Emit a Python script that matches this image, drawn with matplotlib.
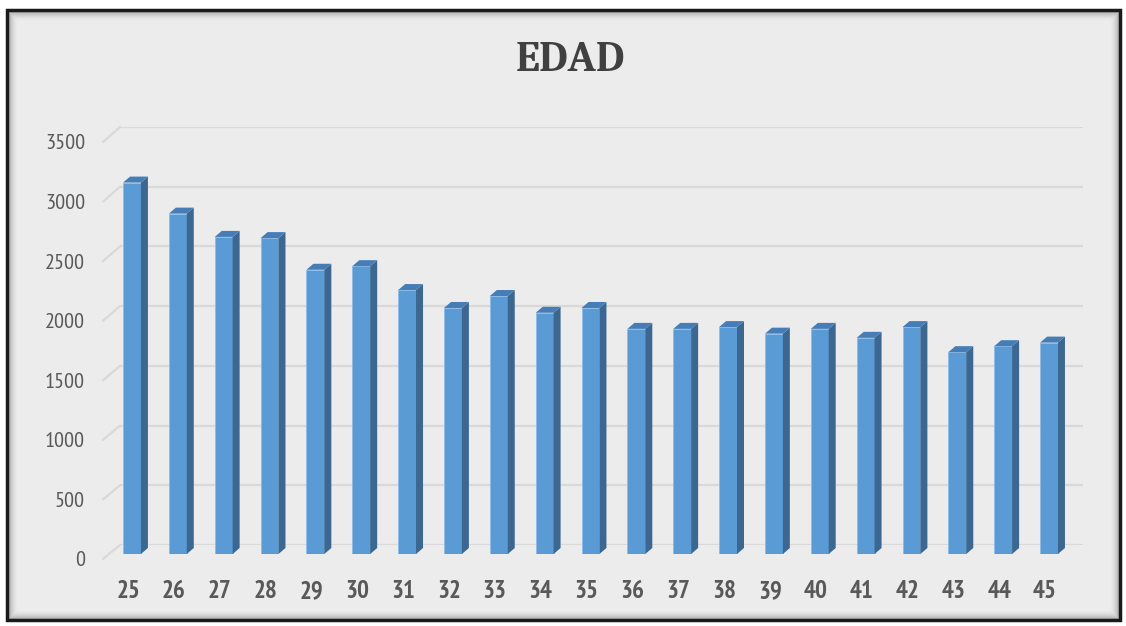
import matplotlib
matplotlib.use("Agg")
import matplotlib.pyplot as plt
from matplotlib.patches import Polygon, Rectangle, ConnectionPatch
from matplotlib.transforms import blended_transform_factory, ScaledTranslation

# ---- data ----
edades = ["25", "26", "27", "28", "29", "30", "31", "32", "33", "34", "35",
          "36", "37", "38", "39", "40", "41", "42", "43", "44", "45"]
valores = [3110, 2850, 2655, 2645, 2380, 2410, 2210, 2060, 2160, 2020, 2060,
           1885, 1885, 1900, 1845, 1885, 1810, 1900, 1690, 1740, 1770]
y_ticks = [0, 500, 1000, 1500, 2000, 2500, 3000, 3500]
titulo = "EDAD"

NARROW = ["PT Sans Narrow", "Archivo Narrow", "Roboto Condensed", "DejaVu Sans"]
SERIF = ["Caladea", "Liberation Serif", "DejaVu Serif"]

W, H = 1126, 626
fig = plt.figure(figsize=(W / 100, H / 100), dpi=100, facecolor="white")

def fx(px):
    return px / W

def fy(px_from_top):
    return 1 - px_from_top / H

# ---- frame with inner shadow ----
bg = "#ECECEC"
fig.patches.append(Rectangle((fx(7), fy(620)), fx(1113), 610 / H, transform=fig.transFigure,
                             facecolor=bg, edgecolor="none", zorder=-3))
for i in range(10):
    a = 0.22 * (1 - i / 10) ** 2
    fig.patches.append(Rectangle((fx(8 + i), fy(619 - i)), fx(1111 - 2 * i), (608 - 2 * i) / H,
                                 transform=fig.transFigure, facecolor="none",
                                 edgecolor=(0, 0, 0, a), lw=1.0, zorder=-2))
fig.patches.append(Rectangle((fx(7), fy(620)), fx(1113), 610 / H, transform=fig.transFigure,
                             facecolor="none", edgecolor="#1a1a1a", lw=2.5, zorder=-1))

ymax = 3500
hgt = 418 / H

# back wall axes (gridlines)
ax_back = fig.add_axes([fx(120), fy(545), fx(963), hgt])
ax_back.set_xlim(0, 1)
ax_back.set_ylim(0, ymax)
ax_back.set_yticks(y_ticks)
ax_back.set_xticks([])
ax_back.tick_params(left=False, labelleft=False)
ax_back.grid(axis="y", color="#D9D9D9", lw=1.6)
ax_back.set_facecolor("none")
for s in ax_back.spines.values():
    s.set_visible(False)

# front plane axes (y tick labels)
ax_fp = fig.add_axes([fx(103), fy(559), fx(17), 417 / H])
ax_fp.set_ylim(0, ymax)
ax_fp.set_yticks(y_ticks)
ax_fp.set_yticklabels([str(v) for v in y_ticks],
                      fontdict=dict(family=NARROW, size=16, color="#595959"))
ax_fp.tick_params(axis="y", length=0, pad=13)
ax_fp.set_xticks([])
ax_fp.set_facecolor("none")
for s in ax_fp.spines.values():
    s.set_visible(False)

tb = blended_transform_factory(ax_back.transAxes, ax_back.transData)
tf = blended_transform_factory(ax_fp.transAxes, ax_fp.transData)
for v in y_ticks:
    cp = ConnectionPatch(xyA=(0, v), coordsA=tf, xyB=(0, v), coordsB=tb,
                         color="#D9D9D9", lw=1.6, zorder=0.5)
    fig.add_artist(cp)

# bars axes
ax = fig.add_axes([fx(108), fy(554), fx(965), hgt])
ax.set_zorder(2)
ax.set_facecolor("none")
n = len(valores)
ax.set_xlim(-0.523, n - 1 + 0.523)
ax.set_ylim(0, ymax)
xs = list(range(n))
w = 0.39
front = "#5B9BD5"
side = "#3B6791"
top = "#467DB6"
ax.bar(xs, valores, width=w, color=front, edgecolor="#8DBBE8", lw=0.6, zorder=3)
dx = 7 / 45.85
dy = 6 / (418 / ymax)
for x, v in zip(xs, valores):
    xr = x + w / 2
    xl = x - w / 2
    ax.add_patch(Polygon([(xr, 0), (xr + dx, dy), (xr + dx, v + dy), (xr, v)],
                         closed=True, facecolor=side, edgecolor="none", zorder=3))
    ax.add_patch(Polygon([(xl, v), (xr, v), (xr + dx, v + dy), (xl + dx, v + dy)],
                         closed=True, facecolor=top, edgecolor="none", zorder=3))
ax.set_xticks(xs)
ax.set_xticklabels(edades, fontdict=dict(family=NARROW, size=18, weight="bold", color="#595959"))
ax.tick_params(axis="x", length=0, pad=19)
ax.set_yticks([])
for s in ax.spines.values():
    s.set_visible(False)
shift = ScaledTranslation(-4 / 100, 0, fig.dpi_scale_trans)
for lab in ax.get_xticklabels():
    lab.set_transform(lab.get_transform() + shift)

fig.text(fx(570), fy(61), titulo, ha="center", va="center",
         family=SERIF, weight="bold", size=31, color="#404040")

fig.savefig("out.png", dpi=100, facecolor="white")
